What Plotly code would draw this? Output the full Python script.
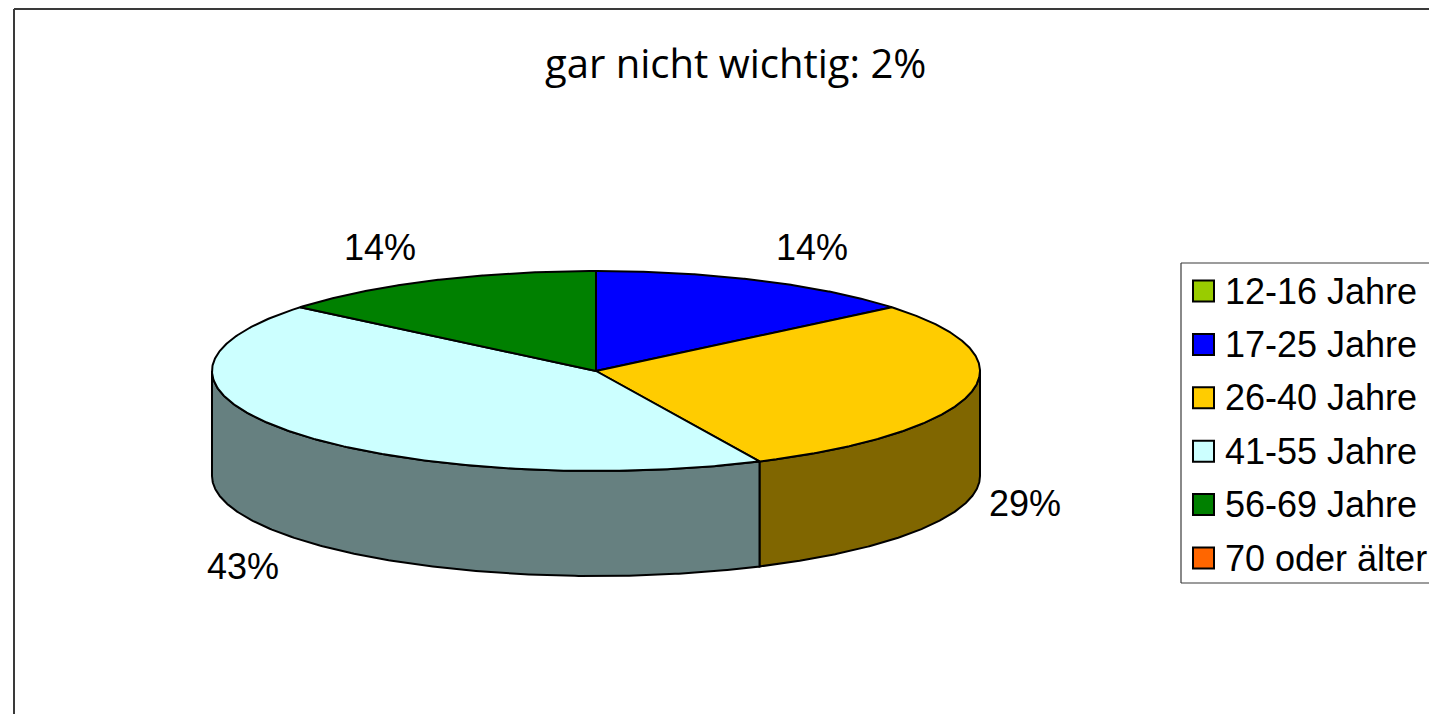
import numpy as np
import plotly.graph_objects as go

# ---- data ----
categories = ["12-16 Jahre", "17-25 Jahre", "26-40 Jahre", "41-55 Jahre", "56-69 Jahre", "70 oder älter"]
values = [0, 14, 29, 43, 14, 0]
colors = ["#99CC00", "#0000FF", "#FFCC00", "#CCFFFF", "#008000", "#FF6600"]
title_text = "gar nicht wichtig: 2%"

# ---- layout constants (page pixels) ----
W, H = 1437, 722
OFF = 8          # page body margin compensation
FIG_H = H - 2 * OFF
CX, CY, RX, RY, DEPTH = 596, 371, 384, 100, 105
LINE_W = 2
# label anchor positions (text layout)
label_pos = {1: (812, 247), 2: (1025, 503), 3: (243, 566), 4: (380, 247)}


def darker(hexc, f=0.5):
    h = hexc.lstrip("#")
    r, g, b = (int(h[i:i + 2], 16) for i in (0, 2, 4))
    return "#%02X%02X%02X" % (int(round(r * f)), int(round(g * f)), int(round(b * f)))


def pt(t, dy=0.0):
    return CX + RX * np.sin(t), CY - RY * np.cos(t) + dy


fig = go.Figure()
total = float(sum(values))
bounds = np.concatenate([[0], np.cumsum(values)]) / total * 2 * np.pi

# sides (front half only: pi/2 .. 3pi/2)
for i, v in enumerate(values):
    if v <= 0:
        continue
    a, b = bounds[i], bounds[i + 1]
    lo, hi = max(a, np.pi / 2), min(b, 3 * np.pi / 2)
    if hi <= lo:
        continue
    t = np.linspace(lo, hi, 200)
    xt, yt = pt(t)
    xb, yb = pt(t[::-1], DEPTH)
    xs = np.concatenate([xt, xb, xt[:1]])
    ys = np.concatenate([yt, yb, yt[:1]])
    fig.add_trace(go.Scatter(x=xs, y=ys, mode="lines", fill="toself",
                             fillcolor=darker(colors[i]),
                             line=dict(color="black", width=LINE_W),
                             hoverinfo="skip", showlegend=False))

# top faces
for i, v in enumerate(values):
    if v <= 0:
        continue
    a, b = bounds[i], bounds[i + 1]
    t = np.linspace(a, b, 300)
    xa, ya = pt(t)
    xs = np.concatenate([[CX], xa, [CX]])
    ys = np.concatenate([[CY], ya, [CY]])
    fig.add_trace(go.Scatter(x=xs, y=ys, mode="lines", fill="toself",
                             fillcolor=colors[i],
                             line=dict(color="black", width=LINE_W),
                             hoverinfo="skip", showlegend=False,
                             name=categories[i]))

annotations = []
# percent labels
for i, v in enumerate(values):
    if v <= 0:
        continue
    x, y = label_pos[i]
    annotations.append(dict(x=x, y=y, xref="x", yref="y", text=f"{v}%", showarrow=False,
                            xanchor="center", yanchor="middle",
                            font=dict(family="Liberation Sans, Arial", size=36, color="black")))

# title
annotations.append(dict(x=735, y=62, xref="x", yref="y", text=title_text, showarrow=False,
                        xanchor="center", yanchor="middle",
                        font=dict(family="Open Sans", size=40, color="black")))

# manual legend
LEG_X, LEG_Y0, LEG_DY = 1203.5, 291, 53.4
leg_y = [LEG_Y0 + LEG_DY * k for k in range(len(categories))]
fig.add_trace(go.Scatter(x=[LEG_X] * len(categories), y=leg_y, mode="markers",
                         marker=dict(symbol="square", size=21, color=colors,
                                     line=dict(color="black", width=2)),
                         hoverinfo="skip", showlegend=False, cliponaxis=False))
for k, c in enumerate(categories):
    annotations.append(dict(x=1223, y=leg_y[k], xref="x", yref="y", text=c, showarrow=False,
                            xanchor="left", yanchor="middle",
                            font=dict(family="Liberation Sans, Arial", size=36, color="black")))

FRAME = dict(color="#3A3A3A", width=2)
LEGBOX = dict(color="#3A3A3A", width=1.2)
shapes = [
    # outer chart frame (left and top edges; right/bottom lie off-page)
    dict(type="line", xref="x", yref="y", x0=14, y0=9, x1=W, y1=9, line=FRAME, layer="below"),
    dict(type="line", xref="x", yref="y", x0=14, y0=9, x1=14, y1=H, line=FRAME, layer="below"),
    # legend box (right edge off-page)
    dict(type="line", xref="x", yref="y", x0=1181, y0=263, x1=W, y1=263, line=LEGBOX, layer="below"),
    dict(type="line", xref="x", yref="y", x0=1181, y0=263, x1=1181, y1=583, line=LEGBOX, layer="below"),
    dict(type="line", xref="x", yref="y", x0=1181, y0=583, x1=W, y1=583, line=LEGBOX, layer="below"),
]

fig.update_layout(
    width=W - 2 * OFF, height=FIG_H,
    margin=dict(l=0, r=0, t=0, b=0),
    paper_bgcolor="white", plot_bgcolor="white",
    xaxis=dict(range=[OFF, W - OFF], visible=False, fixedrange=True),
    yaxis=dict(range=[OFF + FIG_H, OFF], visible=False, fixedrange=True),
    annotations=annotations,
    shapes=shapes,
    showlegend=False,
)

fig.write_html("out.html")
